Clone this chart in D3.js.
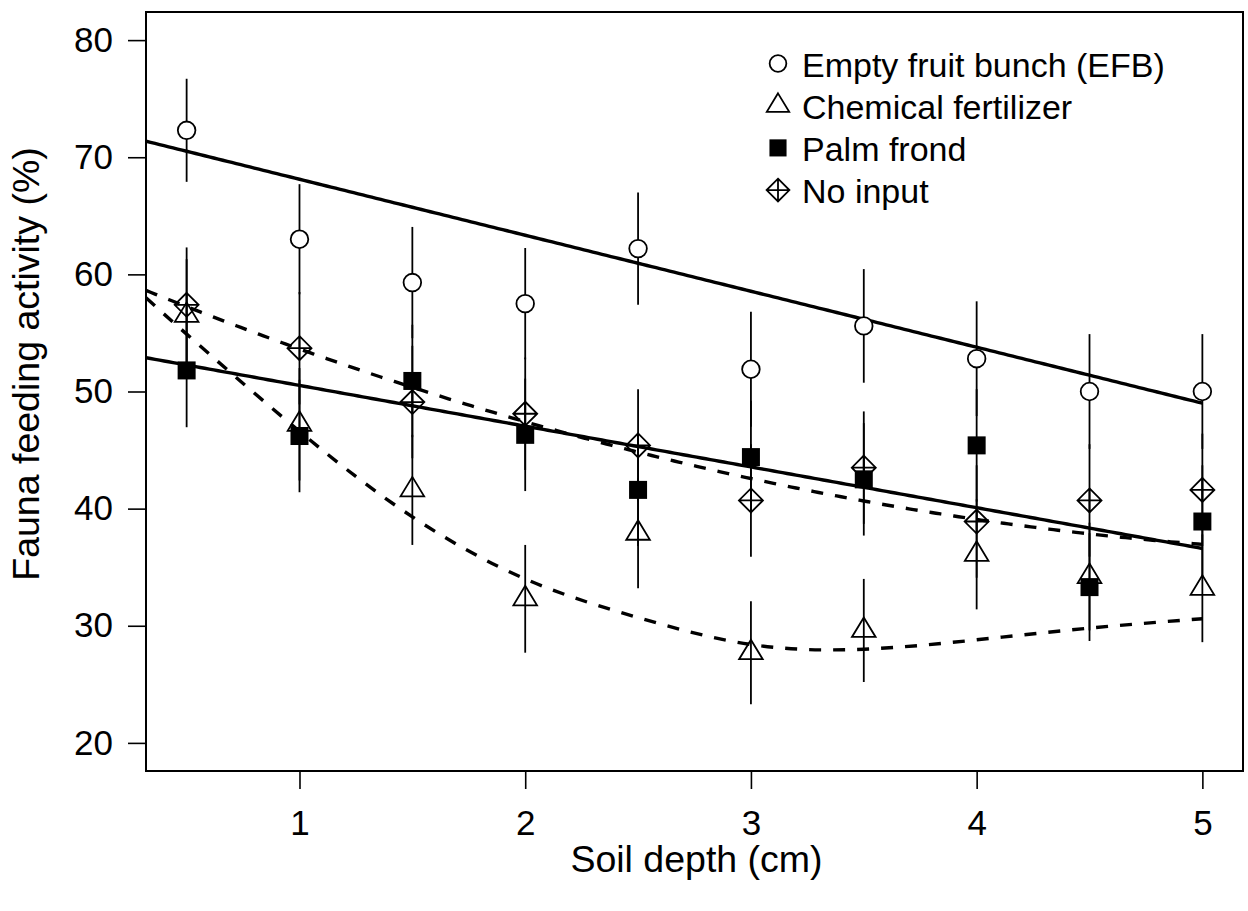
<!DOCTYPE html>
<html>
<head>
<meta charset="utf-8">
<script src="https://cdn.jsdelivr.net/npm/d3@7"></script>
<style>
  html, body { margin: 0; padding: 0; background: #fff; }
  svg { display: block; }
  text { font-family: "Liberation Sans", Arial, Helvetica, sans-serif; fill: #000; }
</style>
</head>
<body>
<svg id="chart" width="1248" height="911"></svg>
<script>
// ---------------- data ----------------
const depth = [0.5, 1, 1.5, 2, 2.5, 3, 3.5, 4, 4.5, 5];

const efb      = [72.3, 63.0, 59.3, 57.5, 62.2, 51.9, 55.6, 52.8, 50.0, 50.0];
const efbErr   = [4.4, 4.7, 4.75, 4.75, 4.8, 4.9, 4.85, 4.9, 4.9, 4.9];

const chem     = [56.5, 47.2, 41.6, 32.3, 37.9, 27.7, 29.6, 36.1, 34.2, 33.2];
const chemErr  = [4.8, 4.8, 4.7, 4.6, 4.7, 4.4, 4.4, 4.7, 4.6, 4.6];

const palm     = [51.8, 46.2, 50.9, 46.3, 41.6, 44.4, 42.5, 45.4, 33.3, 38.9];
const palmErr  = [4.85, 4.8, 4.8, 4.8, 4.8, 4.8, 4.8, 4.8, 4.6, 4.8];

const noInput    = [57.4, 53.7, 49.1, 48.1, 45.4, 40.7, 43.5, 38.9, 40.7, 41.6];
const noInputErr = [4.9, 4.8, 4.8, 4.8, 4.8, 4.8, 4.8, 4.8, 4.8, 4.8];

// fitted lines
const fitEfb  = [72.9, -4.78];          // intercept, slope (solid)
const fitPalm = [54.0, -3.48];          // intercept, slope (solid)
const fitNoInput = [61.2, -8.25, 0.68]; // quadratic (dashed)
const chemCurveX = [0.32, 0.5, 1, 1.5, 2, 2.5, 3, 3.5, 4, 4.5, 5];
const chemCurveY = [58.0, 54.9, 46.6, 39.3, 34.0, 30.7, 28.4, 28.0, 28.8, 29.8, 30.6];

const xTicks = [1, 2, 3, 4, 5];
const yTicks = [20, 30, 40, 50, 60, 70, 80];

const legendLabels = ["Empty fruit bunch (EFB)", "Chemical fertilizer", "Palm frond", "No input"];
const xTitle = "Soil depth (cm)";
const yTitle = "Fauna feeding activity (%)";

// ---------------- layout ----------------
const svg = d3.select("#chart");
const L = 146, R = 1243, T = 12, B = 771;
const FS_TICK = 35, FS_TITLE = 37.5, FS_LEG = 34;

const x = d3.scaleLinear().domain([0.32, 5.18]).range([L, R]);
const y = d3.scaleLinear().domain([17.6, 82.4]).range([B, T]);

svg.append("clipPath").attr("id", "clip")
  .append("rect").attr("x", L).attr("y", T).attr("width", R - L).attr("height", B - T);

const plot = svg.append("g").attr("clip-path", "url(#clip)");

// fit lines
const line = d3.line().x(d => x(d[0])).y(d => y(d[1]));
const xs = d3.range(0.32, 5.0001, 0.02);
function poly(c, v) { return c.reduce((s, ci, i) => s + ci * Math.pow(v, i), 0); }

plot.append("path").attr("d", line(xs.map(v => [v, poly(fitEfb, v)])))
  .attr("fill", "none").attr("stroke", "#000").attr("stroke-width", 3.4);
plot.append("path").attr("d", line(xs.map(v => [v, poly(fitPalm, v)])))
  .attr("fill", "none").attr("stroke", "#000").attr("stroke-width", 3.4);
plot.append("path").attr("d", line(xs.map(v => [v, poly(fitNoInput, v)])))
  .attr("fill", "none").attr("stroke", "#000").attr("stroke-width", 3.4)
  .attr("stroke-dasharray", "12,12");
plot.append("path")
  .attr("d", d3.line().curve(d3.curveNatural).x((d, i) => x(chemCurveX[i])).y(d => y(d))(chemCurveY))
  .attr("fill", "none").attr("stroke", "#000").attr("stroke-width", 3.4)
  .attr("stroke-dasharray", "12,12");

// error bars
const series = [
  { vals: efb, err: efbErr, shape: "circle" },
  { vals: chem, err: chemErr, shape: "triangle" },
  { vals: palm, err: palmErr, shape: "square" },
  { vals: noInput, err: noInputErr, shape: "diamond" }
];
series.forEach(s => {
  plot.append("g").selectAll("line").data(depth).join("line")
    .attr("x1", d => x(d)).attr("x2", d => x(d))
    .attr("y1", (d, i) => y(s.vals[i] - s.err[i]))
    .attr("y2", (d, i) => y(s.vals[i] + s.err[i]))
    .attr("stroke", "#000").attr("stroke-width", 1.8);
});

// symbols
function drawSymbol(g, shape, cx, cy, k) {
  k = k || 1;
  if (shape === "circle") {
    g.append("circle").attr("cx", cx).attr("cy", cy).attr("r", 8.8 * k)
      .attr("fill", "#fff").attr("stroke", "#000").attr("stroke-width", 1.8);
  } else if (shape === "triangle") {
    const r = 13 * k, hw = 11.8 * k, b = 6.5 * k;
    g.append("path").attr("d", `M${cx},${cy - r}L${cx + hw},${cy + b}L${cx - hw},${cy + b}Z`)
      .attr("fill", "none").attr("stroke", "#000").attr("stroke-width", 1.8);
  } else if (shape === "square") {
    const h = 9 * k;
    g.append("rect").attr("x", cx - h).attr("y", cy - h).attr("width", 2 * h).attr("height", 2 * h)
      .attr("fill", "#000");
  } else if (shape === "diamond") {
    const h = 12 * k;
    g.append("path").attr("d", `M${cx},${cy - h}L${cx + h},${cy}L${cx},${cy + h}L${cx - h},${cy}Z` +
      `M${cx - h},${cy}L${cx + h},${cy}M${cx},${cy - h}L${cx},${cy + h}`)
      .attr("fill", "none").attr("stroke", "#000").attr("stroke-width", 1.8);
  }
}
const pts = plot.append("g");
[series[3], series[2], series[1], series[0]].forEach(s => {
  depth.forEach((d, i) => drawSymbol(pts, s.shape, x(d), y(s.vals[i])));
});

// box
svg.append("rect").attr("x", L).attr("y", T).attr("width", R - L).attr("height", B - T)
  .attr("fill", "none").attr("stroke", "#000").attr("stroke-width", 2);

// axes
const xAxis = svg.append("g").attr("transform", `translate(0,${B})`)
  .call(d3.axisBottom(x).tickValues(xTicks).tickSize(18).tickPadding(21).tickFormat(d3.format("d")));
const yAxis = svg.append("g").attr("transform", `translate(${L},0)`)
  .call(d3.axisLeft(y).tickValues(yTicks).tickSize(18).tickPadding(15).tickFormat(d3.format("d")));
[xAxis, yAxis].forEach(a => {
  a.select(".domain").remove();
  a.selectAll(".tick line").attr("stroke", "#000").attr("stroke-width", 1.6);
  a.selectAll(".tick text").attr("font-size", FS_TICK)
    .attr("font-family", '"Liberation Sans", Arial, sans-serif').attr("fill", "#000");
});

// titles
svg.append("text").attr("x", (L + R) / 2 + 2).attr("y", 872).attr("text-anchor", "middle")
  .attr("font-size", FS_TITLE).text(xTitle);
svg.append("text").attr("transform", `translate(39,364) rotate(-90)`)
  .attr("text-anchor", "middle").attr("font-size", FS_TITLE).text(yTitle);

// legend
const lg = svg.append("g");
const shapes = ["circle", "triangle", "square", "diamond"];
legendLabels.forEach((lab, i) => {
  const cy = 63.5 + i * 42.2;
  drawSymbol(lg, shapes[i], 778, cy, 0.95);
  lg.append("text").attr("x", 802).attr("y", cy + 13).attr("font-size", FS_LEG).text(lab);
});
</script>
</body>
</html>
